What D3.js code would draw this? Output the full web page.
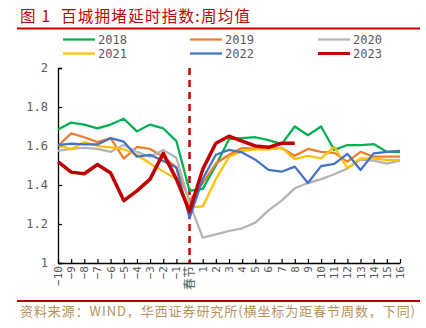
<!DOCTYPE html>
<html lang="zh">
<head>
<meta charset="utf-8">
<title>百城拥堵延时指数</title>
<script src="https://d3js.org/d3.v7.min.js"></script>
<style>
  html, body { margin: 0; padding: 0; background: #fff; }
  svg { display: block; }
  .cjk { font-family: "Noto Sans CJK SC", sans-serif; white-space: pre; }
  .num { font-family: "DejaVu Sans Mono", "Liberation Mono", monospace; fill: #595959; }
</style>
</head>
<body>
<svg id="chart" width="426" height="328"></svg>
<script>
// weeks relative to Spring Festival
const weeks = ["−10","−9","−8","−7","−6","−5","−4","−3","−2","−1","春节",
  "1","2","3","4","5","6","7","8","9","10","11","12","13","14","15","16"];

const years = ["2018", "2019", "2020", "2021", "2022", "2023"];
const colors = ["#00b050", "#ed7d31", "#b4b4b4", "#ffc000", "#4472c4", "#c00000"];

const v2018 = [1.685,1.72,1.71,1.69,1.71,1.74,1.675,1.71,1.69,1.625,1.37,
  1.38,1.50,1.635,1.64,1.645,1.63,1.61,1.70,1.655,1.70,1.58,1.605,1.605,1.61,1.57,1.57];
const v2019 = [1.60,1.665,1.645,1.62,1.64,1.535,1.595,1.585,1.545,1.49,1.32,
  1.41,1.51,1.555,1.59,1.585,1.585,1.59,1.55,1.585,1.57,1.565,1.52,1.57,1.545,1.545,1.545];
const v2020 = [1.575,1.585,1.59,1.585,1.57,1.605,1.57,1.545,1.58,1.54,1.31,
  1.13,1.147,1.164,1.178,1.207,1.27,1.32,1.383,1.41,1.43,1.455,1.485,1.53,1.525,1.51,1.525];
const v2021 = [1.605,1.583,1.62,1.60,1.593,1.583,1.555,1.51,1.47,1.43,1.285,
  1.29,1.43,1.545,1.575,1.583,1.583,1.59,1.533,1.55,1.537,1.596,1.486,1.537,1.537,1.528,1.528];
const v2022 = [1.605,1.612,1.608,1.608,1.64,1.622,1.545,1.555,1.523,1.49,1.23,
  1.43,1.555,1.58,1.567,1.53,1.477,1.468,1.494,1.41,1.497,1.508,1.56,1.477,1.562,1.57,1.575];
const v2023 = [1.52,1.466,1.458,1.505,1.462,1.32,1.37,1.43,1.562,1.43,1.265,
  1.48,1.614,1.65,1.625,1.60,1.593,1.614,1.614];

const yTicks = [1, 1.2, 1.4, 1.6, 1.8, 2];
const seriesValues = [v2018, v2019, v2020, v2021, v2022, v2023];

const svg = d3.select("#chart");

const x = d3.scalePoint().domain(weeks).range([58, 400]);
const y = d3.scaleLinear().domain([1, 2]).range([263, 68]);

// title
svg.append("text")
  .attr("class", "cjk")
  .attr("x", 20).attr("y", 22)
  .attr("fill", "#c00000")
  .attr("textLength", 230)
  .attr("lengthAdjust", "spacing")
  .style("font-size", "15.5px")
  .text("图 1  百城拥堵延时指数:周均值");

svg.append("line")
  .attr("x1", 17).attr("x2", 420).attr("y1", 28.5).attr("y2", 28.5)
  .attr("stroke", "#c00000").attr("stroke-width", 2);

// legend
const legend = svg.append("g");
const legX = [63, 190, 318];
const legItem = legend.selectAll("g")
  .data(years)
  .enter().append("g")
  .attr("transform", (d, i) => "translate(" + legX[i % 3] + "," + (39.5 + Math.floor(i / 3) * 14) + ")");
legItem.append("line")
  .attr("x1", 0).attr("x2", 32)
  .attr("stroke", (d, i) => colors[i])
  .attr("stroke-width", (d, i) => i === 5 ? 3 : 2.25);
legItem.append("text")
  .attr("class", "num")
  .attr("x", 35).attr("y", 4.5)
  .style("font-size", "12px")
  .text(d => d);

// y axis
const yAxis = svg.append("g")
  .attr("transform", "translate(58,0)")
  .call(d3.axisRight(y).tickValues(yTicks).tickSize(4).tickFormat(""));
yAxis.select(".domain").attr("stroke", "#000").attr("stroke-width", 1.3);
yAxis.selectAll(".tick line").attr("stroke", "#000").attr("stroke-width", 1.2);

svg.append("g").selectAll("text")
  .data(yTicks)
  .enter().append("text")
  .attr("class", "num")
  .attr("x", 48).attr("y", d => y(d) + 4)
  .attr("text-anchor", "end")
  .style("font-size", "12px")
  .text(d => d3.format("~g")(d));

// x axis
const xAxis = svg.append("g")
  .attr("transform", "translate(0,263)")
  .call(d3.axisTop(x).tickSize(4).tickSizeOuter(0).tickFormat(""));
xAxis.select(".domain").attr("stroke", "#000").attr("stroke-width", 1.3);
xAxis.selectAll(".tick line").attr("stroke", "#000").attr("stroke-width", 1.2);

svg.append("g").selectAll("text")
  .data(weeks)
  .enter().append("text")
  .attr("class", d => d === "春节" ? "cjk" : "num")
  .attr("transform", d => "translate(" + (x(d) + 4) + ",266) rotate(-90)")
  .attr("text-anchor", "end")
  .attr("fill", "#595959")
  .style("font-size", d => d === "春节" ? "12px" : "11px")
  .text(d => d);

// spring festival marker
svg.append("line")
  .attr("x1", x("春节")).attr("x2", x("春节"))
  .attr("y1", 68).attr("y2", 263)
  .attr("stroke", "#c00000").attr("stroke-width", 2.5)
  .attr("stroke-dasharray", "7,5");

// lines
const line = d3.line()
  .defined(d => d.v != null)
  .x(d => x(d.w))
  .y(d => y(d.v));

years.forEach((yr, i) => {
  const pts = weeks.map((w, j) => ({ w: w, v: seriesValues[i][j] }));
  svg.append("path")
    .datum(pts)
    .attr("fill", "none")
    .attr("stroke", colors[i])
    .attr("stroke-width", i === 5 ? 3.5 : 2.25)
    .attr("stroke-linejoin", "round")
    .attr("d", line);
});

// source
svg.append("line")
  .attr("x1", 17).attr("x2", 420).attr("y1", 301).attr("y2", 301)
  .attr("stroke", "#c00000").attr("stroke-width", 2);

svg.append("text")
  .attr("class", "cjk")
  .attr("x", 20).attr("y", 316)
  .attr("fill", "#b8915c")
  .attr("textLength", 395)
  .attr("lengthAdjust", "spacing")
  .style("font-size", "13px")
  .text("资料来源：WIND，华西证券研究所(横坐标为距春节周数，下同)");
</script>
</body>
</html>
